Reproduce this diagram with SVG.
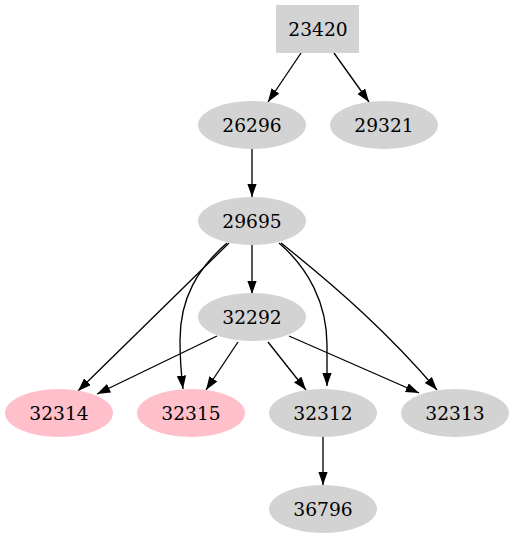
<svg xmlns="http://www.w3.org/2000/svg" width="514" height="539" viewBox="0 0 514 539">
<style>
.n{fill:#d3d3d3;stroke:none}
.p{fill:#ffc0cb;stroke:none}
text{font-family:"DejaVu Serif","Liberation Serif",serif;font-size:18.67px;fill:#000;text-anchor:middle}
.e{fill:none;stroke:#000;stroke-width:1.33;marker-end:url(#ah)}
</style>
<defs>
<marker id="ah" markerUnits="userSpaceOnUse" markerWidth="14" markerHeight="10" refX="13.3" refY="4.7" orient="auto">
<path d="M0,0 L13.3,4.7 L0,9.4 Z" fill="#000"/>
</marker>
</defs>
<g id="edges">
<path class="e" d="M301,53 L268,102"/>
<path class="e" d="M334,53 L369,102"/>
<path class="e" d="M252,149 L252,197"/>
<path class="e" d="M252,245 L252,294"/>
<path class="e" d="M229,243 L78,391"/>
<path class="e" d="M227,243 C198,268 180,298 180,340 C180,356 181,372 183,389"/>
<path class="e" d="M279,243 C308,268 327,303 327,345 C327,360 327,372 327,386"/>
<path class="e" d="M281,243 C340,290 390,335 437,390"/>
<path class="e" d="M217,336 L97,394"/>
<path class="e" d="M238,342 L206,390"/>
<path class="e" d="M268,342 L306,390"/>
<path class="e" d="M289,336 L419,393"/>
<path class="e" d="M323,437 L323,485"/>
</g>
<g id="n23420"><rect class="n" x="276" y="5" width="83" height="48"/><text x="318" y="35.5">23420</text></g>
<g id="n26296"><ellipse class="n" cx="252" cy="125" rx="54" ry="24"/><text x="252" y="131.5">26296</text></g>
<g id="n29321"><ellipse class="n" cx="384" cy="125" rx="54" ry="24"/><text x="384" y="131.5">29321</text></g>
<g id="n29695"><ellipse class="n" cx="252" cy="221" rx="54" ry="24"/><text x="252" y="227.5">29695</text></g>
<g id="n32292"><ellipse class="n" cx="252" cy="317" rx="54" ry="24"/><text x="252" y="323.5">32292</text></g>
<g id="n32314"><ellipse class="p" cx="59" cy="413" rx="54" ry="24"/><text x="59" y="419.5">32314</text></g>
<g id="n32315"><ellipse class="p" cx="191" cy="413" rx="54" ry="24"/><text x="191" y="419.5">32315</text></g>
<g id="n32312"><ellipse class="n" cx="323" cy="413" rx="54" ry="24"/><text x="323" y="419.5">32312</text></g>
<g id="n32313"><ellipse class="n" cx="455" cy="413" rx="54" ry="24"/><text x="455" y="419.5">32313</text></g>
<g id="n36796"><ellipse class="n" cx="323" cy="509" rx="54" ry="24"/><text x="323" y="515.5">36796</text></g>
</svg>
